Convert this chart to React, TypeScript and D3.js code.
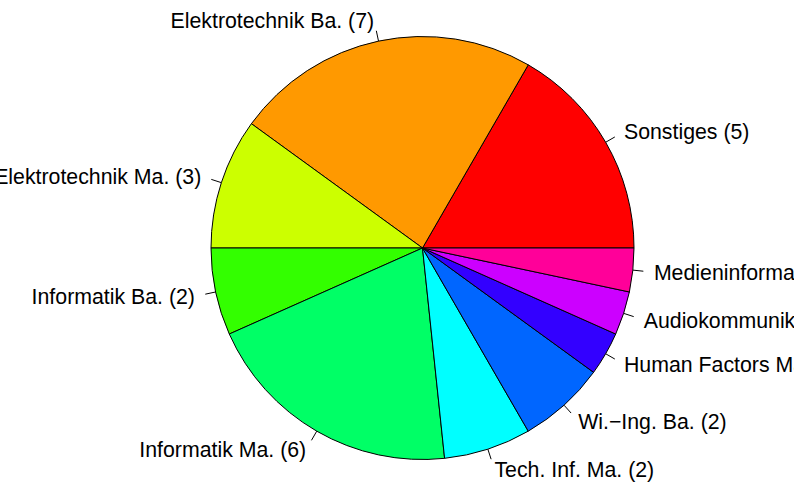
import * as d3 from "d3";
import React, { useRef, useEffect } from "react";

const labels = [
  "Sonstiges (5)",
  "Elektrotechnik Ba. (7)",
  "Elektrotechnik Ma. (3)",
  "Informatik Ba. (2)",
  "Informatik Ma. (6)",
  "Tech. Inf. Ma. (2)",
  "Wi.\u2212Ing. Ba. (2)",
  "Human Factors Ma. (1)",
  "Audiokommunikation Ma. (1)",
  "Medieninformatik Ma. (1)",
];
const counts = [5, 7, 3, 2, 6, 2, 2, 1, 1, 1];
const colors = [
  "#FF0000", "#FF9900", "#CCFF00", "#33FF00", "#00FF66",
  "#00FFFF", "#0066FF", "#3300FF", "#CC00FF", "#FF0099",
];

const App = () => {
  const ref = useRef<SVGSVGElement>(null);
  const width = 794;
  const height = 486;
  const cx = 422.5;
  const cy = 248;
  const r = 211.5;

  useEffect(() => {
    const svg = d3.select(ref.current);
    svg.selectAll("*").remove();

    const total = d3.sum(counts);
    // R pie: counter-clockwise from 3 o'clock
    const ang = d3.scaleLinear().domain([0, total]).range([0, 2 * Math.PI]);
    const cum = d3.cumsum(counts);
    const data = counts.map((v, i) => ({
      i,
      a0: ang(cum[i] - v),
      a1: ang(cum[i]),
    }));

    const g = svg.append("g").attr("transform", `translate(${cx},${cy})`);

    const path = (a0: number, a1: number) => {
      const p = d3.path();
      p.moveTo(0, 0);
      p.lineTo(r * Math.cos(a0), -r * Math.sin(a0));
      p.arc(0, 0, r, -a0, -a1, true);
      p.closePath();
      return p.toString();
    };

    g.selectAll("path.slice")
      .data(data)
      .enter()
      .append("path")
      .attr("class", "slice")
      .attr("d", (d) => path(d.a0, d.a1))
      .attr("fill", (d) => colors[d.i])
      .attr("stroke", "#000")
      .attr("stroke-width", 1);

    data.forEach((d) => {
      const m = (d.a0 + d.a1) / 2;
      const x = Math.cos(m) * r;
      const y = -Math.sin(m) * r;
      g.append("line")
        .attr("x1", x)
        .attr("y1", y)
        .attr("x2", x * 1.05)
        .attr("y2", y * 1.05)
        .attr("stroke", "#000")
        .attr("stroke-width", 1);
      g.append("text")
        .attr("x", x * 1.1)
        .attr("y", y * 1.1)
        .attr("dy", "0.36em")
        .attr("text-anchor", x < 0 ? "end" : "start")
        .attr("font-family", "'Liberation Sans', Arial, sans-serif")
        .attr("font-size", 21.3)
        .attr("fill", "#000")
        .text(labels[d.i]);
    });
  }, []);

  return (
    <svg
      ref={ref}
      width={width}
      height={height}
      style={{ position: "absolute", left: 0, top: 0, background: "#fff", overflow: "hidden" }}
    />
  );
};

export default App;
